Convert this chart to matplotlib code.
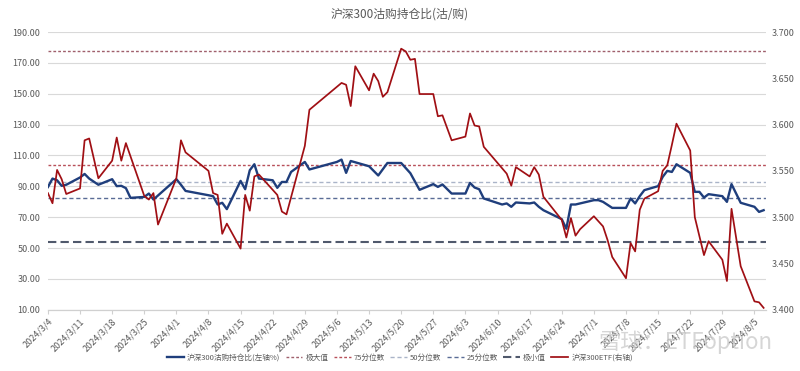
import pandas as pd
import matplotlib
matplotlib.use('Agg')
import matplotlib.pyplot as plt
import matplotlib.ticker as mticker

plt.rcParams['font.family'] = ['Noto Sans CJK SC', 'DejaVu Sans']

title = '沪深300沽购持仓比(沽/购)'

# 沽购持仓比 (left axis, %)
ratio_days = ['3/4', '3/5', '3/6', '3/7', '3/8', '3/11', '3/12', '3/13', '3/15', '3/18',
              '3/19', '3/20', '3/21', '3/22', '3/25', '3/26', '3/27', '4/1', '4/2', '4/3',
              '4/8', '4/9', '4/10', '4/11', '4/12', '4/15', '4/16', '4/17', '4/18', '4/19',
              '4/22', '4/23', '4/24', '4/25', '4/26', '4/29', '4/30', '5/6', '5/7', '5/8',
              '5/9', '5/13', '5/15', '5/17', '5/20', '5/22', '5/24', '5/27', '5/28', '5/29',
              '5/31', '6/3', '6/4', '6/5', '6/6', '6/7', '6/11', '6/12', '6/13', '6/14',
              '6/17', '6/18', '6/19', '6/20', '6/24', '6/25', '6/26', '6/27', '7/1', '7/2',
              '7/3', '7/5', '7/8', '7/9', '7/10', '7/11', '7/12', '7/15', '7/16', '7/17',
              '7/18', '7/19', '7/22', '7/23', '7/24', '7/25', '7/26', '7/29', '7/30', '7/31',
              '8/2', '8/5', '8/6', '8/7']
ratio_vals = [89.5, 95.0, 93.9, 90.3, 91.0, 95.7, 98.0, 95.0, 91.0, 94.6,
              90.1, 90.3, 88.8, 82.5, 83.1, 85.3, 81.4, 94.6, 91.0, 87.0,
              84.2, 83.6, 78.2, 79.3, 75.2, 93.5, 88.1, 100.4, 104.3, 95.0,
              93.9, 89.0, 92.8, 92.8, 99.3, 105.8, 100.9, 105.8, 107.3, 98.7,
              106.4, 103.0, 97.0, 105.1, 105.1, 98.5, 87.7, 91.4, 89.6, 91.2,
              85.3, 85.3, 92.2, 89.2, 88.1, 82.1, 78.2, 78.9, 76.7, 79.5,
              78.9, 79.5, 76.7, 74.5, 68.7, 62.5, 78.2, 78.2, 81.0, 81.0,
              79.9, 76.0, 76.0, 82.1, 78.9, 83.6, 87.5, 90.1, 96.1, 100.0,
              99.3, 104.3, 98.7, 86.4, 86.4, 82.7, 84.9, 83.6, 79.9, 91.4,
              79.3, 76.7, 73.4, 74.5]

# 沪深300ETF (right axis)
etf_days = ['3/4', '3/5', '3/6', '3/7', '3/8', '3/11', '3/12', '3/13', '3/15', '3/18',
            '3/19', '3/20', '3/21', '3/25', '3/26', '3/27', '3/28', '4/1', '4/2', '4/3',
            '4/8', '4/9', '4/10', '4/11', '4/12', '4/15', '4/16', '4/17', '4/18', '4/19',
            '4/23', '4/24', '4/25', '4/29', '4/30', '5/7', '5/8', '5/9', '5/10', '5/13',
            '5/14', '5/15', '5/16', '5/17', '5/20', '5/21', '5/22', '5/23', '5/24', '5/27',
            '5/28', '5/29', '5/31', '6/3', '6/4', '6/5', '6/6', '6/7', '6/12', '6/13',
            '6/14', '6/17', '6/18', '6/19', '6/20', '6/24', '6/25', '6/26', '6/27', '6/28',
            '7/1', '7/3', '7/4', '7/5', '7/8', '7/9', '7/10', '7/11', '7/12', '7/15',
            '7/16', '7/17', '7/18', '7/19', '7/22', '7/23', '7/25', '7/26', '7/29', '7/30',
            '7/31', '8/2', '8/5', '8/6', '8/7']
etf_vals = [3.526, 3.515, 3.551, 3.541, 3.525, 3.531, 3.583, 3.585, 3.542, 3.561,
            3.586, 3.561, 3.580, 3.523, 3.519, 3.526, 3.492, 3.542, 3.583, 3.570,
            3.550, 3.526, 3.524, 3.482, 3.493, 3.466, 3.524, 3.507, 3.544, 3.546,
            3.524, 3.506, 3.503, 3.577, 3.616, 3.645, 3.643, 3.620, 3.663, 3.637,
            3.655, 3.647, 3.630, 3.635, 3.682, 3.679, 3.670, 3.671, 3.633, 3.633,
            3.609, 3.610, 3.583, 3.587, 3.612, 3.599, 3.598, 3.576, 3.547, 3.534,
            3.554, 3.544, 3.554, 3.546, 3.522, 3.497, 3.478, 3.499, 3.480, 3.487,
            3.501, 3.490, 3.475, 3.457, 3.434, 3.472, 3.463, 3.508, 3.520, 3.528,
            3.550, 3.556, 3.578, 3.601, 3.572, 3.500, 3.459, 3.474, 3.454, 3.431,
            3.509, 3.447, 3.409, 3.408, 3.402]

ref_names = ['极大值', '75分位数', '50分位数', '25分位数', '极小值']
ref_vals = [177.4, 103.5, 92.7, 82.5, 53.8]
ref_colors = ['#a0606c', '#b8505a', '#aab4c8', '#5a6c96', '#50596c']
ref_styles = [(0, (2, 1.5)), (0, (2, 1.5)), (0, (3, 2)), (0, (3, 2)), (0, (4, 2))]
ref_widths = [1.0, 1.0, 1.0, 1.0, 1.5]


def to_date(days):
    return pd.to_datetime(['2024/' + d for d in days], format='%Y/%m/%d')


fig = plt.figure(figsize=(8, 3.71), dpi=100)
ax = fig.add_axes([0.0594, 0.1652, 0.898, 0.7485])
ax2 = ax.twinx()

handles = []
h, = ax.plot(to_date(ratio_days), ratio_vals, color='#1f3e7c', lw=1.7, zorder=3)
handles.append(h)
for name, v, c, ls, w in zip(ref_names, ref_vals, ref_colors, ref_styles, ref_widths):
    h = ax.axhline(v, color=c, ls=ls, lw=w, zorder=2)
    handles.append(h)
h, = ax2.plot(to_date(etf_days), etf_vals, color='#a00f14', lw=1.25)
handles.append(h)
labels = ['沪深300沽购持仓比(左轴%)'] + ref_names + ['沪深300ETF(右轴)']

start = pd.Timestamp('2024-03-04')
ax.set_xlim(start - pd.Timedelta(hours=2), start + pd.Timedelta(days=156.5))
ax.set_ylim(10, 190)
ax.set_yticks(range(10, 191, 20))
ax.yaxis.set_major_formatter(mticker.FormatStrFormatter('%.2f'))
ax2.set_ylim(3.4, 3.7)
ax2.set_yticks([3.40, 3.45, 3.50, 3.55, 3.60, 3.65, 3.70])
ax2.yaxis.set_major_formatter(mticker.FormatStrFormatter('%.3f'))
ax.grid(axis='y', color='#d9d9d9', lw=0.8)
ax.set_axisbelow(True)

ticks = pd.date_range('2024-03-04', '2024-08-05', freq='7D')
ax.set_xticks(ticks)
ax.set_xticklabels([f'{d.year}/{d.month}/{d.day}' for d in ticks], rotation=45,
                   ha='right', rotation_mode='anchor')

for a in (ax, ax2):
    for s in ('top', 'left', 'right'):
        a.spines[s].set_visible(False)
    a.spines['bottom'].set_color('#d0d0d0')
ax.tick_params(axis='y', length=0, labelsize=6.5, labelcolor='#595959', pad=5)
ax2.tick_params(axis='y', length=0, labelsize=6.5, labelcolor='#595959', pad=4)
ax.tick_params(axis='x', length=3, color='#d0d0d0', labelsize=6.5, labelcolor='#595959', pad=2)

fig.text(0.5, 0.962, title, ha='center', va='center', fontsize=8.5, color='#595959')
fig.text(0.7475, 0.078, '雪球：ETFoption', ha='left', va='center', fontsize=16,
         color='#cccccc', alpha=0.8)
fig.legend(handles, labels, loc='center', bbox_to_anchor=(0.5, 0.036), ncol=7,
           frameon=False, fontsize=5.5, handlelength=2.2, columnspacing=0.7,
           handletextpad=0.4, labelcolor='#595959')

fig.savefig('out.png', dpi=100)
